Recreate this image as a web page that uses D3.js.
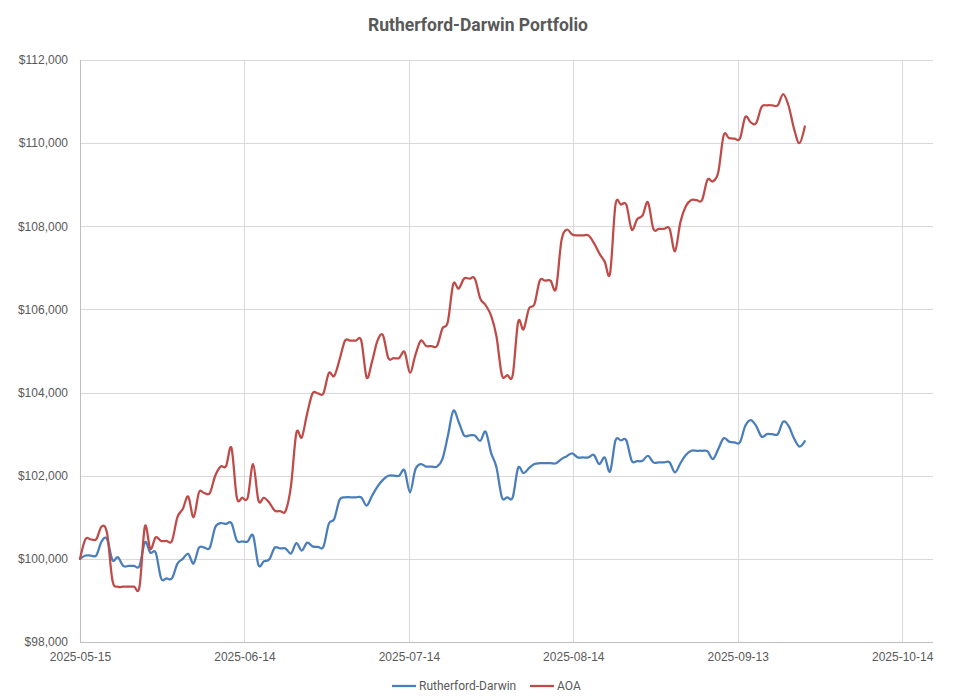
<!DOCTYPE html>
<html>
<head>
<meta charset="utf-8">
<title>Rutherford-Darwin Portfolio</title>
<script src="https://d3js.org/d3.v7.min.js"></script>
<style>
	body {
		margin: 0;
		background: #fff;
		font-family: "Roboto", "Liberation Sans", sans-serif;
	}

	.grid line {
		stroke: #d9d9d9;
		stroke-width: 1px;
	}

	.axis text {
		fill: #595959;
		font-size: 12px;
	}

	.series {
		fill: none;
		stroke-width: 2.25px;
		stroke-linejoin: round;
		stroke-linecap: round;
	}
</style>
</head>
<body>
<script>
	// one value per calendar day, 2025-05-15 .. 2025-09-26
	var startDate = "2025-05-15",
			endDate = "2025-09-26";

	var rutherford = [
		100000, 100080, 100080, 100080, 100420, 100480, 99970, 100040, 99830, 99830,
		99830, 99830, 100400, 100150, 100150, 99530, 99530, 99530, 99880, 100000,
		100120, 99890, 100270, 100270, 100270, 100760, 100860, 100840, 100860, 100440,
		100420, 100420, 100560, 99850, 99940, 99990, 100270, 100250, 100250, 100130,
		100380, 100200, 100390, 100300, 100290, 100290, 100840, 100960, 101420, 101480,
		101480, 101480, 101480, 101280, 101520, 101740, 101900, 102000, 102000, 102000,
		102130, 101600, 102150, 102280, 102220, 102220, 102220, 102400, 102950, 103560,
		103300, 102970, 102970, 102970, 102840, 103060, 102550, 102200, 101480, 101480,
		101480, 102190, 102060, 102180, 102280, 102300, 102300, 102300, 102300, 102400,
		102470, 102540, 102440, 102440, 102440, 102500, 102280, 102440, 102100, 102850,
		102850, 102850, 102360, 102350, 102360, 102480, 102320, 102320, 102320, 102320,
		102080, 102300, 102500, 102600, 102600, 102600, 102590, 102400, 102640, 102900,
		102820, 102800, 102800, 103200, 103340, 103200, 102940, 103000, 103000, 103000,
		103300, 103200, 102900, 102700, 102830
	];

	var aoa = [
		100000, 100470, 100470, 100470, 100780, 100620, 99480, 99330, 99330, 99330,
		99330, 99330, 100780, 100240, 100520, 100430, 100430, 100430, 101000, 101200,
		101500, 101000, 101600, 101580, 101580, 102000, 102220, 102230, 102670, 101470,
		101470, 101470, 102280, 101400, 101470, 101350, 101160, 101150, 101150, 101750,
		103030, 102920, 103500, 103980, 103980, 103980, 104470, 104400, 104800, 105250,
		105250, 105250, 105250, 104360, 104750, 105250, 105380, 104830, 104830, 104830,
		104980, 104480, 104900, 105250, 105120, 105120, 105120, 105540, 105700, 106610,
		106500, 106740, 106740, 106740, 106260, 106100, 105850, 105350, 104420, 104420,
		104420, 105700, 105520, 106020, 106120, 106690, 106690, 106690, 106500, 107650,
		107920, 107800, 107780, 107780, 107780, 107600, 107350, 107150, 106870, 108520,
		108520, 108520, 107920, 108170, 108260, 108580, 107940, 107940, 107940, 107940,
		107400, 108100, 108480, 108630, 108630, 108630, 109120, 109080, 109300, 110190,
		110120, 110110, 110110, 110630, 110500, 110480, 110870, 110910, 110910, 110910,
		111180, 110900, 110350, 110000, 110400
	];

	var seriesNames = ["Rutherford-Darwin", "AOA"],
			seriesColors = ["#4a7ebb", "#be4b48"];

	var yTicks = [98000, 100000, 102000, 104000, 106000, 108000, 110000, 112000];
	var xTickStep = 30.4; // days between date-axis labels

	var width = 964,
			height = 700,
			margin = { top: 60, right: 31, bottom: 58, left: 80 };

	var parse = d3.utcParse("%Y-%m-%d"),
			fmt = d3.utcFormat("%Y-%m-%d");

	var dates = d3.utcDay.range(parse(startDate), d3.utcDay.offset(parse(endDate), 1));
	var t0 = dates[0];
	var dayMs = 864e5;

	var x = d3.scaleUtc()
			.domain([t0, new Date(+t0 + 157.7 * dayMs)])
			.range([margin.left, width - margin.right]);

	var y = d3.scaleLinear()
			.domain([98000, 112000])
			.range([height - margin.bottom, margin.top]);

	var xTicks = d3.range(0, 6).map(function(k) { return new Date(+t0 + k * xTickStep * dayMs); });

	var svg = d3.select("body").append("svg")
			.attr("width", width)
			.attr("height", height);

	svg.append("text")
			.attr("x", 478)
			.attr("y", 31)
			.attr("text-anchor", "middle")
			.style("font-size", "17.5px")
			.style("font-weight", "bold")
			.style("fill", "#595959")
			.text("Rutherford-Darwin Portfolio");

	// gridlines
	svg.append("g").attr("class", "grid")
		.selectAll("line").data(yTicks).enter().append("line")
			.attr("x1", margin.left).attr("x2", width - margin.right)
			.attr("y1", function(d) { return Math.round(y(d)) + 0.5; })
			.attr("y2", function(d) { return Math.round(y(d)) + 0.5; });

	svg.append("g").attr("class", "grid")
		.selectAll("line").data(xTicks).enter().append("line")
			.attr("x1", function(d) { return Math.round(x(d)) + 0.5; })
			.attr("x2", function(d) { return Math.round(x(d)) + 0.5; })
			.attr("y1", margin.top)
			.attr("y2", height - margin.bottom);

	// axes (labels only, lines come from the grid)
	var yAxis = svg.append("g").attr("class", "axis")
			.attr("transform", "translate(" + (margin.left - 12) + ",0)")
			.call(d3.axisLeft(y).tickValues(yTicks).tickSize(0).tickPadding(0)
				.tickFormat(function(d) { return "$" + d3.format(",")(d); }));
	yAxis.select(".domain").remove();

	var xAxis = svg.append("g").attr("class", "axis")
			.attr("transform", "translate(0," + (height - margin.bottom + 10) + ")")
			.call(d3.axisBottom(x).tickValues(xTicks).tickSize(0).tickPadding(0)
				.tickFormat(function(d) { return fmt(d3.utcDay.floor(d)); }));
	xAxis.select(".domain").remove();

	// the left and bottom axis lines
	svg.append("line")
			.attr("x1", margin.left + 0.5).attr("x2", margin.left + 0.5)
			.attr("y1", margin.top).attr("y2", height - margin.bottom)
			.style("stroke", "#bfbfbf");
	svg.append("line")
			.attr("x1", margin.left).attr("x2", width - margin.right)
			.attr("y1", Math.round(y(98000)) + 0.5).attr("y2", Math.round(y(98000)) + 0.5)
			.style("stroke", "#bfbfbf");

	var line = d3.line()
			.x(function(d, i) { return x(dates[i]); })
			.y(function(d) { return y(d); })
			.curve(d3.curveCatmullRom.alpha(0));

	svg.selectAll("path.series")
			.data([rutherford, aoa])
		.enter().append("path")
			.attr("class", "series")
			.attr("d", line)
			.style("stroke", function(d, i) { return seriesColors[i]; });

	// legend
	var legendX = [392, 530];
	var legend = svg.append("g").attr("class", "legend");
	seriesNames.forEach(function(name, i) {
		legend.append("line")
				.attr("x1", legendX[i]).attr("x2", legendX[i] + 24)
				.attr("y1", 686).attr("y2", 686)
				.style("stroke", seriesColors[i])
				.style("stroke-width", "2.25px");
		legend.append("text")
				.attr("x", legendX[i] + 27)
				.attr("y", 690)
				.style("font-size", "12px")
				.style("fill", "#595959")
				.text(name);
	});
</script>
</body>
</html>
